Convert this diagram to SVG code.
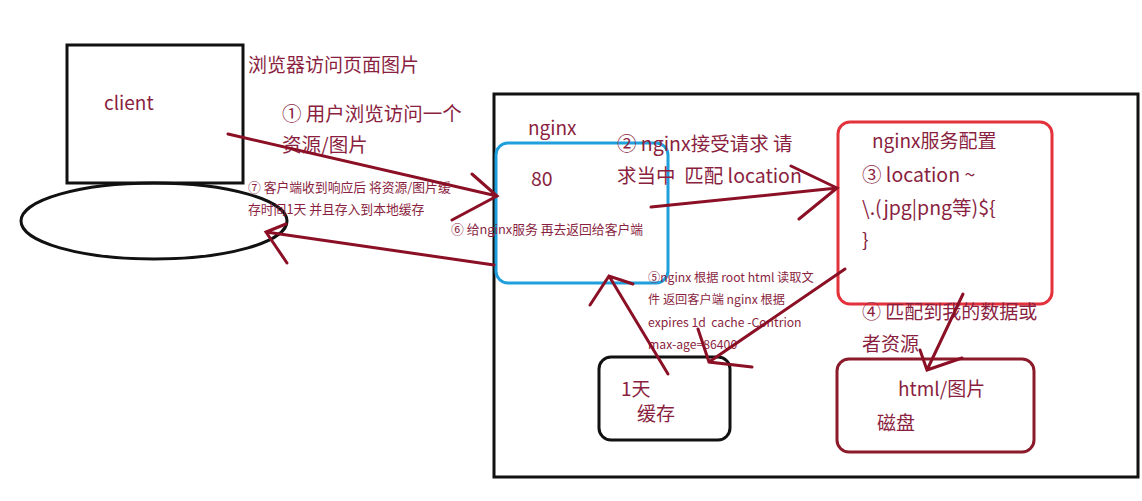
<svg xmlns="http://www.w3.org/2000/svg" width="1142" height="501" viewBox="0 0 1142 501">
<style>
text{font-family:"Microsoft YaHei","Noto Sans CJK SC","Noto Sans",sans-serif;fill:#8a1f3f;white-space:pre}
.l{font-size:19.5px}.m{font-size:19px}.s{font-size:12.8px}.t{font-size:12.2px}
.blk{fill:none;stroke:#111;stroke-width:3}
.ar{fill:none;stroke:#8b0f25;stroke-width:3;stroke-linecap:round}
</style>
<rect width="1142" height="501" fill="#fff"/>
<g id="outer"><rect x="494" y="94" width="644" height="383" class="blk"/></g>
<g id="client">
<rect x="67" y="45" width="176" height="138" class="blk"/>
<text x="104" y="110" class="m">client</text>
</g>
<g id="cache-local"><ellipse cx="154" cy="221" rx="133" ry="38" class="blk"/></g>
<g id="nginx">
<rect x="496" y="143" width="172" height="140" rx="12" fill="none" stroke="#1fa0dc" stroke-width="3"/>
<text x="528" y="135" class="m">nginx</text>
<text x="531" y="186" class="l">80</text>
</g>
<g id="config">
<rect x="838" y="122" width="214" height="182" rx="12" fill="none" stroke="#e3323c" stroke-width="3"/>
<text x="872" y="148" class="m">nginx服务配置</text>
<text x="862" y="182" class="l">③ location ~</text>
<text x="862" y="215" class="l">\.(jpg|png等)${</text>
<text x="862" y="247" class="l">}</text>
</g>
<g id="cache">
<rect x="599" y="357" width="131" height="83" rx="12" class="blk"/>
<text x="621" y="396" class="m">1天</text>
<text x="637" y="421" class="m">缓存</text>
</g>
<g id="disk">
<rect x="837" y="359" width="197" height="93" rx="12" fill="none" stroke="#8b1a2a" stroke-width="3"/>
<text x="898" y="396" class="m">html/图片</text>
<text x="877" y="430" class="m">磁盘</text>
</g>
<g id="labels">
<text x="248" y="72" class="m">浏览器访问页面图片</text>
<text x="282" y="121" class="l">① 用户浏览访问一个</text>
<text x="282" y="152" class="l">资源/图片</text>
<text x="248" y="192" class="s">⑦ 客户端收到响应后 将资源/图片缓</text>
<text x="248" y="214" class="s">存时间1天 并且存入到本地缓存</text>
<text x="451" y="234" class="s">⑥ 给nginx服务 再去返回给客户端</text>
<text x="617" y="151" class="l">② nginx接受请求 请</text>
<text x="617" y="183" class="l">求当中  匹配 location</text>
<text x="648" y="282" class="t">⑤nginx 根据 root html 读取文</text>
<text x="648" y="304" class="t">件 返回客户端 nginx 根据</text>
<text x="648" y="327" class="t">expires 1d  cache -Contrion</text>
<text x="648" y="349" class="t">max-age=86400</text>
<text x="862" y="319" class="m">④ 匹配到我的数据或</text>
<text x="862" y="351" class="m">者资源</text>
</g>
<g id="connectors">
<path class="ar" d="M228,134 L497,196 M472,174 L497,196 L452,220"/>
<path class="ar" d="M494,265 L266,232 M287,263 L266,232 L286,224"/>
<path class="ar" d="M651,207 L837,188 M791,166 L837,188 L799,219"/>
<path class="ar" d="M845,269 L709,362 M698,329 L709,362 L752,367"/>
<path class="ar" d="M668,374 L609,276 M590,305 L609,276 L633,284"/>
<path class="ar" d="M963,294 L927,370 M920,350 L927,370 L962,358"/>
</g>
</svg>
